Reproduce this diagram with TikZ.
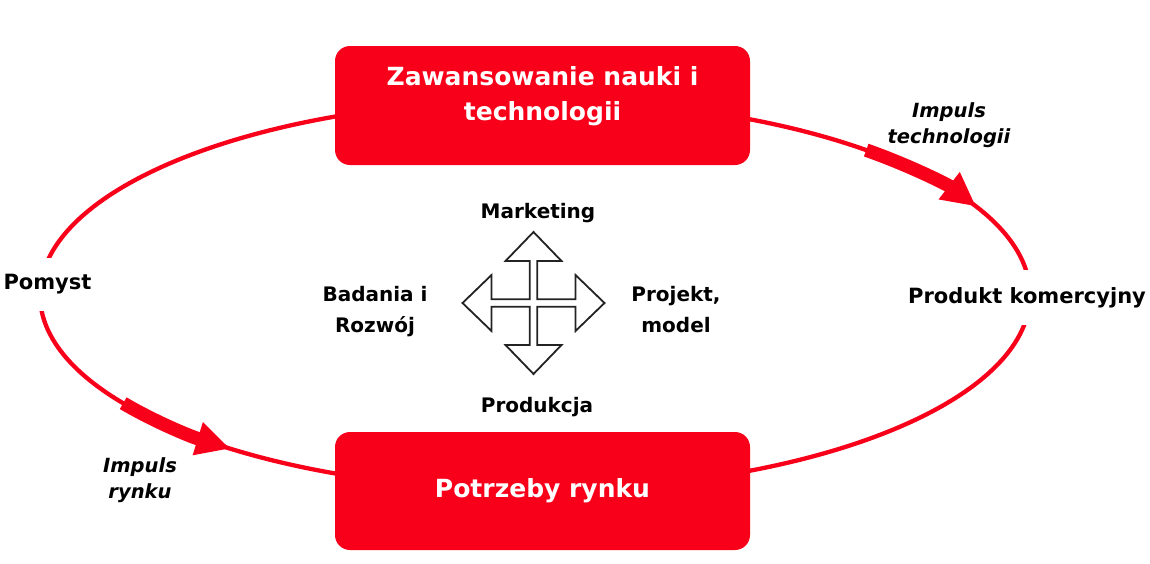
\documentclass[tikz,border=0pt]{standalone}
\usepackage{fontspec}
\setmainfont{DejaVu Sans}
\usetikzlibrary{arrows.meta,calc}
\definecolor{ired}{RGB}{248,0,26}
\definecolor{crossgray}{RGB}{35,35,35}
\begin{document}
\begin{tikzpicture}[x=1pt,y=-1pt,
  redbox/.style={fill=ired, rounded corners=15pt, minimum width=415pt, minimum height=119pt, inner sep=0pt},
  boxtext/.style={text=white, font=\fontsize{25}{35}\selectfont\bfseries, align=center, inner sep=0pt},
  lbl/.style={text=black, font=\fontsize{20}{31}\selectfont\bfseries, align=center, inner sep=0pt},
  biglbl/.style={text=black, font=\fontsize{21}{25}\selectfont\bfseries, fill=white, inner xsep=2pt, inner ysep=17pt},
  implbl/.style={text=black, font=\fontsize{19.5}{26}\selectfont\bfseries\itshape, align=center, inner sep=0pt},
  ring/.style={draw=ired, line width=4.3pt},
  push/.style={draw=ired, line width=13.5pt, -{Triangle[length=34pt,width=32pt]}},
  crossline/.style={draw=crossgray, line width=1.8pt, line join=miter, fill=white}]

\useasboundingbox (0,0) rectangle (1150,563);
\coordinate (C) at (535,295);

% ring
\draw[ring] (C) ellipse [x radius=495, y radius=195];

% thick impulse arrows
\draw[push] ($(C)+(-48:495 and 195)$) arc[start angle=-48, end angle=-27, x radius=495, y radius=195];
\draw[push] ($(C)+(146.3:495 and 195)$) arc[start angle=146.3, end angle=128, x radius=495, y radius=195];

% boxes
\node[redbox] (tech) at (542.5,105.5) {};
\node[boxtext] (techtxt) at (542.5,96) {Zawansowanie nauki i\\technologii};
\node[redbox, minimum height=118pt, text=white, font=\fontsize{25}{35}\selectfont\bfseries] (market) at (542.5,491) {Potrzeby rynku};

% ring labels
\node[biglbl] (idea) at (47.5,284.5) {Pomyst};
\node[biglbl] (product) at (1027,297.5) {Produkt komercyjny};
\node[implbl] (imptech) at (949,125) {Impuls\\technologii};
\node[implbl] (impmark) at (140,480) {Impuls\\rynku};

% centre cross
\coordinate (X) at (533.5,303);
\begin{scope}[shift={(X)}]
\def\s{3.7}\def\b{42}\def\t{71}\def\w{28}
\draw[crossline] (0,-\t) -- (\w,-\b) -- (\s,-\b) -- (\s,-\s) -- (\b,-\s) -- (\b,-\w) -- (\t,0)
  -- (\b,\w) -- (\b,\s) -- (\s,\s) -- (\s,\b) -- (\w,\b) -- (0,\t) -- (-\w,\b) -- (-\s,\b)
  -- (-\s,\s) -- (-\b,\s) -- (-\b,\w) -- (-\t,0) -- (-\b,-\w) -- (-\b,-\s) -- (-\s,-\s)
  -- (-\s,-\b) -- (-\w,-\b) -- cycle;
\end{scope}

% centre labels
\node[lbl] (mkt) at (538,213) {Marketing};
\node[lbl] (prod) at (537,407) {Produkcja};
\node[lbl] (rnd) at (375,312) {Badania i\\Rozwój};
\node[lbl] (design) at (676,310) {Projekt,\\model};
\end{tikzpicture}
\end{document}
